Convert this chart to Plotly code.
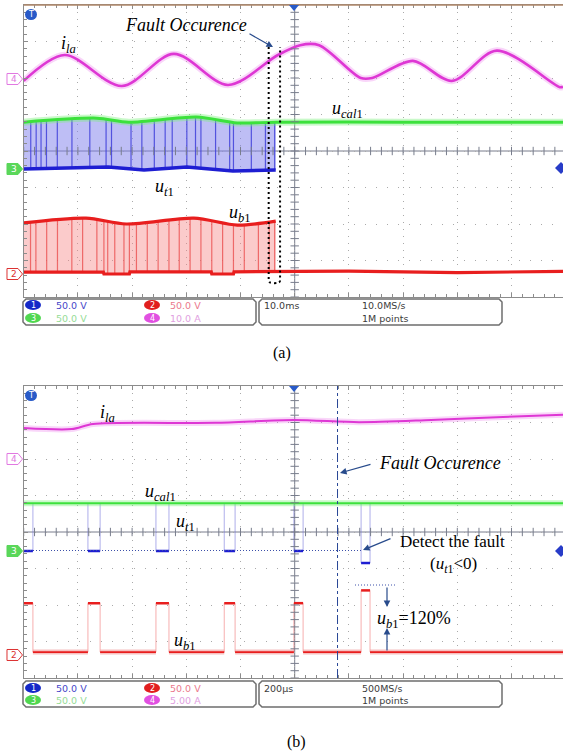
import numpy as np
import plotly.graph_objects as go

W, H = 563, 755

# ---------------- panel (a) data : time in ms (10 ms/div), level in screen divisions ----
A_ILA_T = [0, 7.55, 18.1, 27.7, 37.7, 46.9, 51.0, 54.5, 62.2, 64.3, 71.8, 79.0, 87.3, 98.9, 99.5]
A_ILA_V = [1.92, 2.63, 1.78, 2.66, 1.81, 2.63, 2.9, 2.9, 2.0, 2.0, 2.47, 1.92, 2.75, 1.75, 1.76]

A_CAL_T = [0, 13.5, 19.4, 31.9, 39.4, 46.5, 70.0, 99.5]
A_CAL_V = [0.79, 0.9, 0.79, 0.93, 0.77, 0.79, 0.79, 0.79]

A_UT_T = [0, 15.6, 22.2, 30.1, 38.6, 46.5]
A_UT_V = [-0.49, -0.44, -0.52, -0.44, -0.55, -0.52]
A_UT_STRIPES = [1.3, 2.3, 3.2, 4.2, 6.2, 8.9, 12.2, 15.2, 16.2, 19.8, 21.8, 24.1, 26.1,
                27.4, 30.1, 31.7, 32.7, 35.4, 38.0, 38.7, 42.0, 44.6, 46.3]

A_UBH_T = [0, 11.5, 18.9, 31.4, 39.4, 46.5]
A_UBH_V = [-1.97, -1.84, -2.0, -1.84, -2.03, -1.92]
A_UBL_T = [0, 14.7, 14.8, 19.5, 19.6, 34.6, 34.7, 38.7, 38.8, 46.5, 60.0, 80.0, 99.5]
A_UBL_V = [-3.32, -3.32, -3.37, -3.37, -3.31, -3.31, -3.37, -3.37, -3.31, -3.31, -3.29, -3.33, -3.3]
A_UB_STRIPES = [1.26, 2.25, 4.24, 6.23, 8.88, 10.87, 13.5, 14.8, 15.5, 16.8, 18.5, 19.5, 20.8,
                22.8, 24.8, 26.8, 28.7, 30.7, 32.7, 34.7, 36.7, 38.7, 40.7, 43.3, 45.3, 46.3]
A_FAULT_MS = [45.2, 47.3]

# ---------------- panel (b) data : time in us (200 us/div) -----------------------------
B_ILA_T = [0, 177, 256, 706, 997, 1237, 1503, 1769, 1990]
B_ILA_V = [2.85, 2.82, 2.96, 2.99, 3.07, 3.01, 3.07, 3.15, 3.21]
B_CAL_T = [0, 1990]
B_CAL_V = [0.79, 0.79]
B_PULSE_START = [0, 237, 488, 740, 997, 1245]
B_PULSE_END = [34, 282, 536, 780, 1031, 1278]
B_UT_LOW = [-0.52, -0.52, -0.52, -0.52, -0.52, -0.85]
B_UT_HIGH = 0.79
B_UB_HIGH = [-1.95, -1.95, -1.95, -1.95, -1.95, -1.6]
B_UB_LOW = -3.29
B_FAULT_US = 1158

# ---------------- geometry -------------------------------------------------------------
X0, DIVX = 23.7, 54.2
A_TOP, A_BOT = 5, 297
B_TOP, B_BOT = 386, 678
NDIV = (W - X0) / DIVX


def px(x):
    return x / W


def py(y):
    return 1 - y / H


PINK, PINK_H = "rgb(222,55,212)", "rgba(235,120,235,0.3)"
GREEN, GREEN_H = "rgb(60,225,60)", "rgba(120,240,120,0.4)"
BLUE = "rgb(30,30,210)"
RED = "rgb(232,30,30)"

fig = go.Figure()


def line(x, y, color, width, xa, ya, shape="linear", smooth=1.0):
    fig.add_trace(go.Scatter(x=x, y=y, mode="lines", xaxis=xa, yaxis=ya, hoverinfo="skip",
                             line=dict(color=color, width=width, shape=shape,
                                       **({"smoothing": smooth} if shape == "spline" else {}))))


def stripes(ts, lo_t, lo_v, hi_t, hi_v, color, xa, ya, width=1):
    xs, ys = [], []
    for t in ts:
        xs += [t, t, None]
        ys += [float(np.interp(t, lo_t, lo_v)), float(np.interp(t, hi_t, hi_v)), None]
    line(xs, ys, color, width, xa, ya)


def fill_poly(lo_t, lo_v, hi_t, hi_v, tmax, color, xa, ya):
    ht = [t for t in hi_t if t <= tmax]
    hv = [v for t, v in zip(hi_t, hi_v) if t <= tmax]
    if ht[-1] < tmax:
        ht.append(tmax)
        hv.append(float(np.interp(tmax, hi_t, hi_v)))
    lt = [t for t in lo_t if t <= tmax]
    lv = [v for t, v in zip(lo_t, lo_v) if t <= tmax]
    xs = lt + ht[::-1]
    ys = lv + hv[::-1]
    fig.add_trace(go.Scatter(x=xs, y=ys, mode="lines", fill="toself", fillcolor=color,
                             line=dict(width=0), xaxis=xa, yaxis=ya, hoverinfo="skip"))


# ---------------- panel (a) traces ----------------------------------------------------
tend = A_UT_T[-1]
fill_poly(A_UT_T, A_UT_V, A_CAL_T, A_CAL_V, tend, "rgba(125,125,235,0.5)", "x", "y")
fill_poly(A_UBL_T, A_UBL_V, A_UBH_T, A_UBH_V, tend, "rgba(245,130,130,0.42)", "x", "y")
stripes(A_UT_STRIPES, A_UT_T, A_UT_V, A_CAL_T, A_CAL_V, "rgba(70,70,220,0.9)", "x", "y", 1.2)
stripes(A_UB_STRIPES, A_UBL_T, A_UBL_V, A_UBH_T, A_UBH_V, "rgba(235,80,80,0.8)", "x", "y", 1.2)
line(A_UT_T, A_UT_V, BLUE, 3.5, "x", "y")
line(A_UBH_T, A_UBH_V, RED, 3.2, "x", "y", "spline", 0.8)
line(A_UBL_T, A_UBL_V, RED, 3.2, "x", "y")
line(A_CAL_T, A_CAL_V, GREEN_H, 7, "x", "y", "spline", 0.8)
line(A_CAL_T, A_CAL_V, GREEN, 3, "x", "y", "spline", 0.8)
line(A_ILA_T, A_ILA_V, PINK_H, 6.5, "x", "y", "spline", 0.9)
line(A_ILA_T, A_ILA_V, PINK, 2.6, "x", "y", "spline", 0.9)

# ---------------- panel (b) traces ----------------------------------------------------
ut_edge_x, ut_edge_y, ut_lvl_x, ut_lvl_y = [], [], [], []
ub_edge_x, ub_edge_y, ub_hi_x, ub_hi_y, ub_lo_x, ub_lo_y = [], [], [], [], [], []
prev_end = None
for s, e, lo, hi in zip(B_PULSE_START, B_PULSE_END, B_UT_LOW, B_UB_HIGH):
    for t in ([s, e] if s > 0 else [e]):
        ut_edge_x += [t, t, None]
        ut_edge_y += [B_UT_HIGH, lo, None]
        ub_edge_x += [t, t, None]
        ub_edge_y += [B_UB_LOW, hi, None]
    ut_lvl_x += [s, e, None]
    ut_lvl_y += [lo, lo, None]
    ub_hi_x += [s, e, None]
    ub_hi_y += [hi, hi, None]
    if prev_end is not None:
        ub_lo_x += [prev_end, s, None]
        ub_lo_y += [B_UB_LOW, B_UB_LOW, None]
    prev_end = e
ub_lo_x += [prev_end, B_CAL_T[-1]]
ub_lo_y += [B_UB_LOW, B_UB_LOW]

line(ut_edge_x, ut_edge_y, "rgba(120,120,220,0.6)", 1, "x2", "y2")
line(ub_edge_x, ub_edge_y, "rgba(240,120,120,0.6)", 1, "x2", "y2")
line(ut_lvl_x, ut_lvl_y, BLUE, 2.5, "x2", "y2")
line(ub_hi_x, ub_hi_y, RED, 2.5, "x2", "y2")
line(ub_lo_x, ub_lo_y, "rgba(240,150,150,0.6)", 5, "x2", "y2")
line(ub_lo_x, ub_lo_y, RED, 1.8, "x2", "y2")
line(B_CAL_T, B_CAL_V, GREEN_H, 6, "x2", "y2")
line(B_CAL_T, B_CAL_V, GREEN, 2, "x2", "y2")
line(B_ILA_T, B_ILA_V, PINK_H, 6, "x2", "y2", "spline", 0.8)
line(B_ILA_T, B_ILA_V, PINK, 2, "x2", "y2", "spline", 0.8)

# ---------------- centre crosshair tick marks ------------------------------------------
TICK = "rgb(120,125,140)"
for xa, ya, xspan, xc in (("x", "y", 10.0, 50.0), ("x2", "y2", 200.0, 1000.0)):
    xt = np.arange(0, NDIV * xspan + 1e-6, xspan / 5)
    fig.add_trace(go.Scatter(x=xt, y=np.zeros_like(xt), mode="markers", xaxis=xa, yaxis=ya,
                             hoverinfo="skip",
                             marker=dict(symbol="line-ns", size=6, line=dict(width=1, color=TICK))))
    yt = np.arange(-4, 4.001, 0.2)
    fig.add_trace(go.Scatter(x=np.full_like(yt, xc), y=yt, mode="markers", xaxis=xa, yaxis=ya,
                             hoverinfo="skip",
                             marker=dict(symbol="line-ew", size=6, line=dict(width=1, color=TICK))))

# ---------------- axes -----------------------------------------------------------------
AXC = "rgb(140,140,140)"


def xax(rng, dt, anchor):
    return dict(domain=[px(X0), 1], range=rng, showgrid=True, gridcolor="rgb(170,170,170)",
                griddash="1px,6px", gridwidth=1, dtick=dt, tick0=0, zeroline=False,
                showticklabels=False, showline=True, linecolor=AXC, linewidth=1, mirror="ticks",
                ticks="inside", ticklen=4, tickcolor=AXC,
                minor=dict(dtick=dt / 5, ticks="inside", ticklen=3, tickcolor=AXC, showgrid=False),
                anchor=anchor, fixedrange=True)


def yax(top, bot, anchor):
    return dict(domain=[py(bot), py(top)], range=[-4, 4], showgrid=True, gridcolor="rgb(170,170,170)",
                griddash="1px,10px", gridwidth=1, dtick=1, tick0=0, zeroline=False,
                showticklabels=False, showline=True, linecolor=AXC, linewidth=1, mirror=False,
                ticks="inside", ticklen=4, tickcolor=AXC,
                minor=dict(dtick=0.2, ticks="inside", ticklen=3, tickcolor=AXC, showgrid=False),
                anchor=anchor, fixedrange=True)


shapes, ann = [], []

# centre crosshair lines
for xr, yr, xc in (("x", "y", 50.0), ("x2", "y2", 1000.0)):
    shapes.append(dict(type="line", xref=xr, yref=yr + " domain", x0=xc, x1=xc, y0=0, y1=1,
                       line=dict(color=TICK, width=1), layer="below"))
    shapes.append(dict(type="line", xref=xr + " domain", yref=yr, x0=0, x1=1, y0=0, y1=0,
                       line=dict(color=TICK, width=1), layer="below"))

# brown top border of panel (a)
shapes.append(dict(type="line", xref="paper", yref="paper", x0=px(X0), x1=1, y0=py(A_TOP), y1=py(A_TOP),
                   line=dict(color="rgb(175,135,105)", width=1.5)))

# fault box (panel a)
f0, f1 = A_FAULT_MS
shapes.append(dict(type="path", xref="x", yref="y",
                   path=f"M {f0},2.85 L {f0},-3.55 Q {f0},-3.62 {(f0+f1)/2},-3.62 Q {f1},-3.62 {f1},-3.55 L {f1},2.85",
                   line=dict(color="black", width=2, dash="2px,3px")))

# fault line (panel b)
shapes.append(dict(type="line", xref="x2", yref="y2 domain", x0=B_FAULT_US, x1=B_FAULT_US, y0=0, y1=1,
                   line=dict(color="rgb(40,70,150)", width=1, dash="dashdot")))
# dotted helper lines panel b
DOTC = "rgb(60,80,170)"
shapes.append(dict(type="line", xref="paper", yref="paper", x0=px(24), x1=px(362), y0=py(550.5), y1=py(550.5),
                   line=dict(color=DOTC, width=1, dash="1px,2px")))
shapes.append(dict(type="line", xref="paper", yref="paper", x0=px(355), x1=px(397), y0=py(585), y1=py(585),
                   line=dict(color=DOTC, width=1, dash="1px,2px")))


def ppath(points, close=True):
    s = "M " + " L ".join(f"{px(x):.5f},{py(y):.5f}" for x, y in points)
    return s + (" Z" if close else "")


def txt(x, y, s, color, size=9.5, anchor="left", family="DejaVu Sans"):
    ann.append(dict(x=px(x), y=py(y), xref="paper", yref="paper", text=s, showarrow=False,
                    xanchor=anchor, yanchor="middle", font=dict(family=family, size=size, color=color)))


# channel tags on the left
def tag(yc, num, color, filled):
    pts = [(7, yc - 5.5), (18, yc - 5.5), (22.5, yc), (18, yc + 5.5), (7, yc + 5.5)]
    shapes.append(dict(type="path", xref="paper", yref="paper", path=ppath(pts),
                       fillcolor=color if filled else "white", line=dict(color=color, width=1)))
    txt(13.5, yc, num, "white" if filled else color, 9, "center")


for yc_a, yc_b, num, col, filled in ((79, 459, "4", "rgb(225,120,225)", False),
                                     (169, 551, "3", "rgb(90,215,90)", True),
                                     (274, 655, "2", "rgb(220,50,50)", False)):
    tag(yc_a, num, col, filled)
    tag(yc_b, num, col, filled)

# trigger icon, top triangle, right diamond
for top, ydia in ((A_TOP, 168), (B_TOP, 551)):
    shapes.append(dict(type="circle", xref="paper", yref="paper", x0=px(25), x1=px(37),
                       y0=py(top + 15), y1=py(top + 4), fillcolor="rgb(40,90,200)", line=dict(width=0)))
    txt(31, top + 9.5, "T", "white", 8, "center")
    shapes.append(dict(type="path", xref="paper", yref="paper",
                       path=ppath([(289, top), (299, top), (294, top + 6)]),
                       fillcolor="rgb(40,90,200)", line=dict(width=0)))
    shapes.append(dict(type="path", xref="paper", yref="paper",
                       path=ppath([(555, ydia), (561, ydia - 6), (567, ydia), (561, ydia + 6)]),
                       fillcolor="rgb(40,60,200)", line=dict(width=0)))


# legend boxes
def cbox(x0, y0, x1, y1, c=3):
    pts = [(x0 + c, y0), (x1 - c, y0), (x1, y0 + c), (x1, y1 - c), (x1 - c, y1), (x0 + c, y1),
           (x0, y1 - c), (x0, y0 + c)]
    shapes.append(dict(type="path", xref="paper", yref="paper", path=ppath(pts),
                       fillcolor="white", line=dict(color="rgb(110,110,110)", width=1.5)))


def pill(cx, cy, num, color):
    shapes.append(dict(type="circle", xref="paper", yref="paper", x0=px(cx - 8), x1=px(cx + 8),
                       y0=py(cy + 5), y1=py(cy - 5), fillcolor=color, line=dict(width=0)))
    txt(cx, cy, num, "white", 8, "center")


for (y0, y1, r1, r2, s4, tb, sr) in ((299, 325, 305, 318, "10.0 A", "10.0ms", "10.0MS/s"),
                                     (681, 707, 688, 700, "5.00 A", "200\u03bcs", "500MS/s")):
    cbox(23, y0, 256, y1)
    cbox(259, y0, 502, y1)
    pill(33, r1, "1", "rgb(20,40,200)")
    pill(33, r2, "3", "rgb(80,215,80)")
    pill(152, r1, "2", "rgb(225,30,30)")
    pill(152, r2, "4", "rgb(225,80,225)")
    txt(54, r1, "50.0 V", "rgb(70,70,200)")
    txt(54, r2, "50.0 V", "rgb(150,220,150)")
    txt(168, r1, "50.0 V", "rgb(235,120,140)")
    txt(168, r2, s4, "rgb(225,160,225)")
    txt(262, r1, tb, "rgb(60,60,60)")
    txt(360, r1, sr, "rgb(60,60,60)")
    txt(360, r2, "1M points", "rgb(60,60,60)")

# ---------------- annotation texts -----------------------------------------------------
SERIF = "Liberation Serif"


def label(x, y, s, size=18):
    txt(x, y, s, "black", size, "center", SERIF)


label(186, 25, "<i>Fault Occurence</i>", 18)
label(68, 44, "<i>i</i><sub><i>la</i></sub>")
label(347, 110, "<i>u</i><sub><i>cal</i>1</sub>")
label(164, 187, "<i>u</i><sub><i>t</i>1</sub>")
label(240, 213, "<i>u</i><sub><i>b</i>1</sub>")
label(282, 353, "(a)", 16)

label(107, 413, "<i>i</i><sub><i>la</i></sub>")
label(160, 492, "<i>u</i><sub><i>cal</i>1</sub>")
label(185, 522, "<i>u</i><sub><i>t</i>1</sub>")
label(185, 641, "<i>u</i><sub><i>b</i>1</sub>")
label(440, 463, "<i>Fault Occurence</i>", 18)
label(452, 541, "Detect the fault", 17)
label(453, 565, "(<i>u</i><sub><i>t</i>1</sub>&lt;0)", 17)
label(414, 619, "<i>u</i><sub><i>b</i>1</sub>=120%", 18)
label(296, 742, "(b)", 16)

ARC = "rgb(40,75,140)"


def arrow(hx, hy, tx, ty):
    ann.append(dict(x=px(hx), y=py(hy), xref="paper", yref="paper", ax=tx - hx, ay=ty - hy,
                    axref="pixel", ayref="pixel", text="", showarrow=True, arrowhead=2,
                    arrowsize=1.1, arrowwidth=1.2, arrowcolor=ARC))


arrow(273, 47, 248, 33)
arrow(340, 473, 372, 464)
arrow(363, 550, 392, 538)
arrow(387, 607, 387, 586)
arrow(387, 628, 387, 652)

fig.update_layout(
    width=W, height=H, margin=dict(l=0, r=0, t=0, b=0),
    paper_bgcolor="white", plot_bgcolor="white", showlegend=False,
    xaxis=xax([0, NDIV * 10], 10, "y"),
    yaxis=yax(A_TOP, A_BOT, "x"),
    xaxis2=xax([0, NDIV * 200], 200, "y2"),
    yaxis2=yax(B_TOP, B_BOT, "x2"),
    shapes=shapes, annotations=ann,
)

fig.write_html("out.html")
